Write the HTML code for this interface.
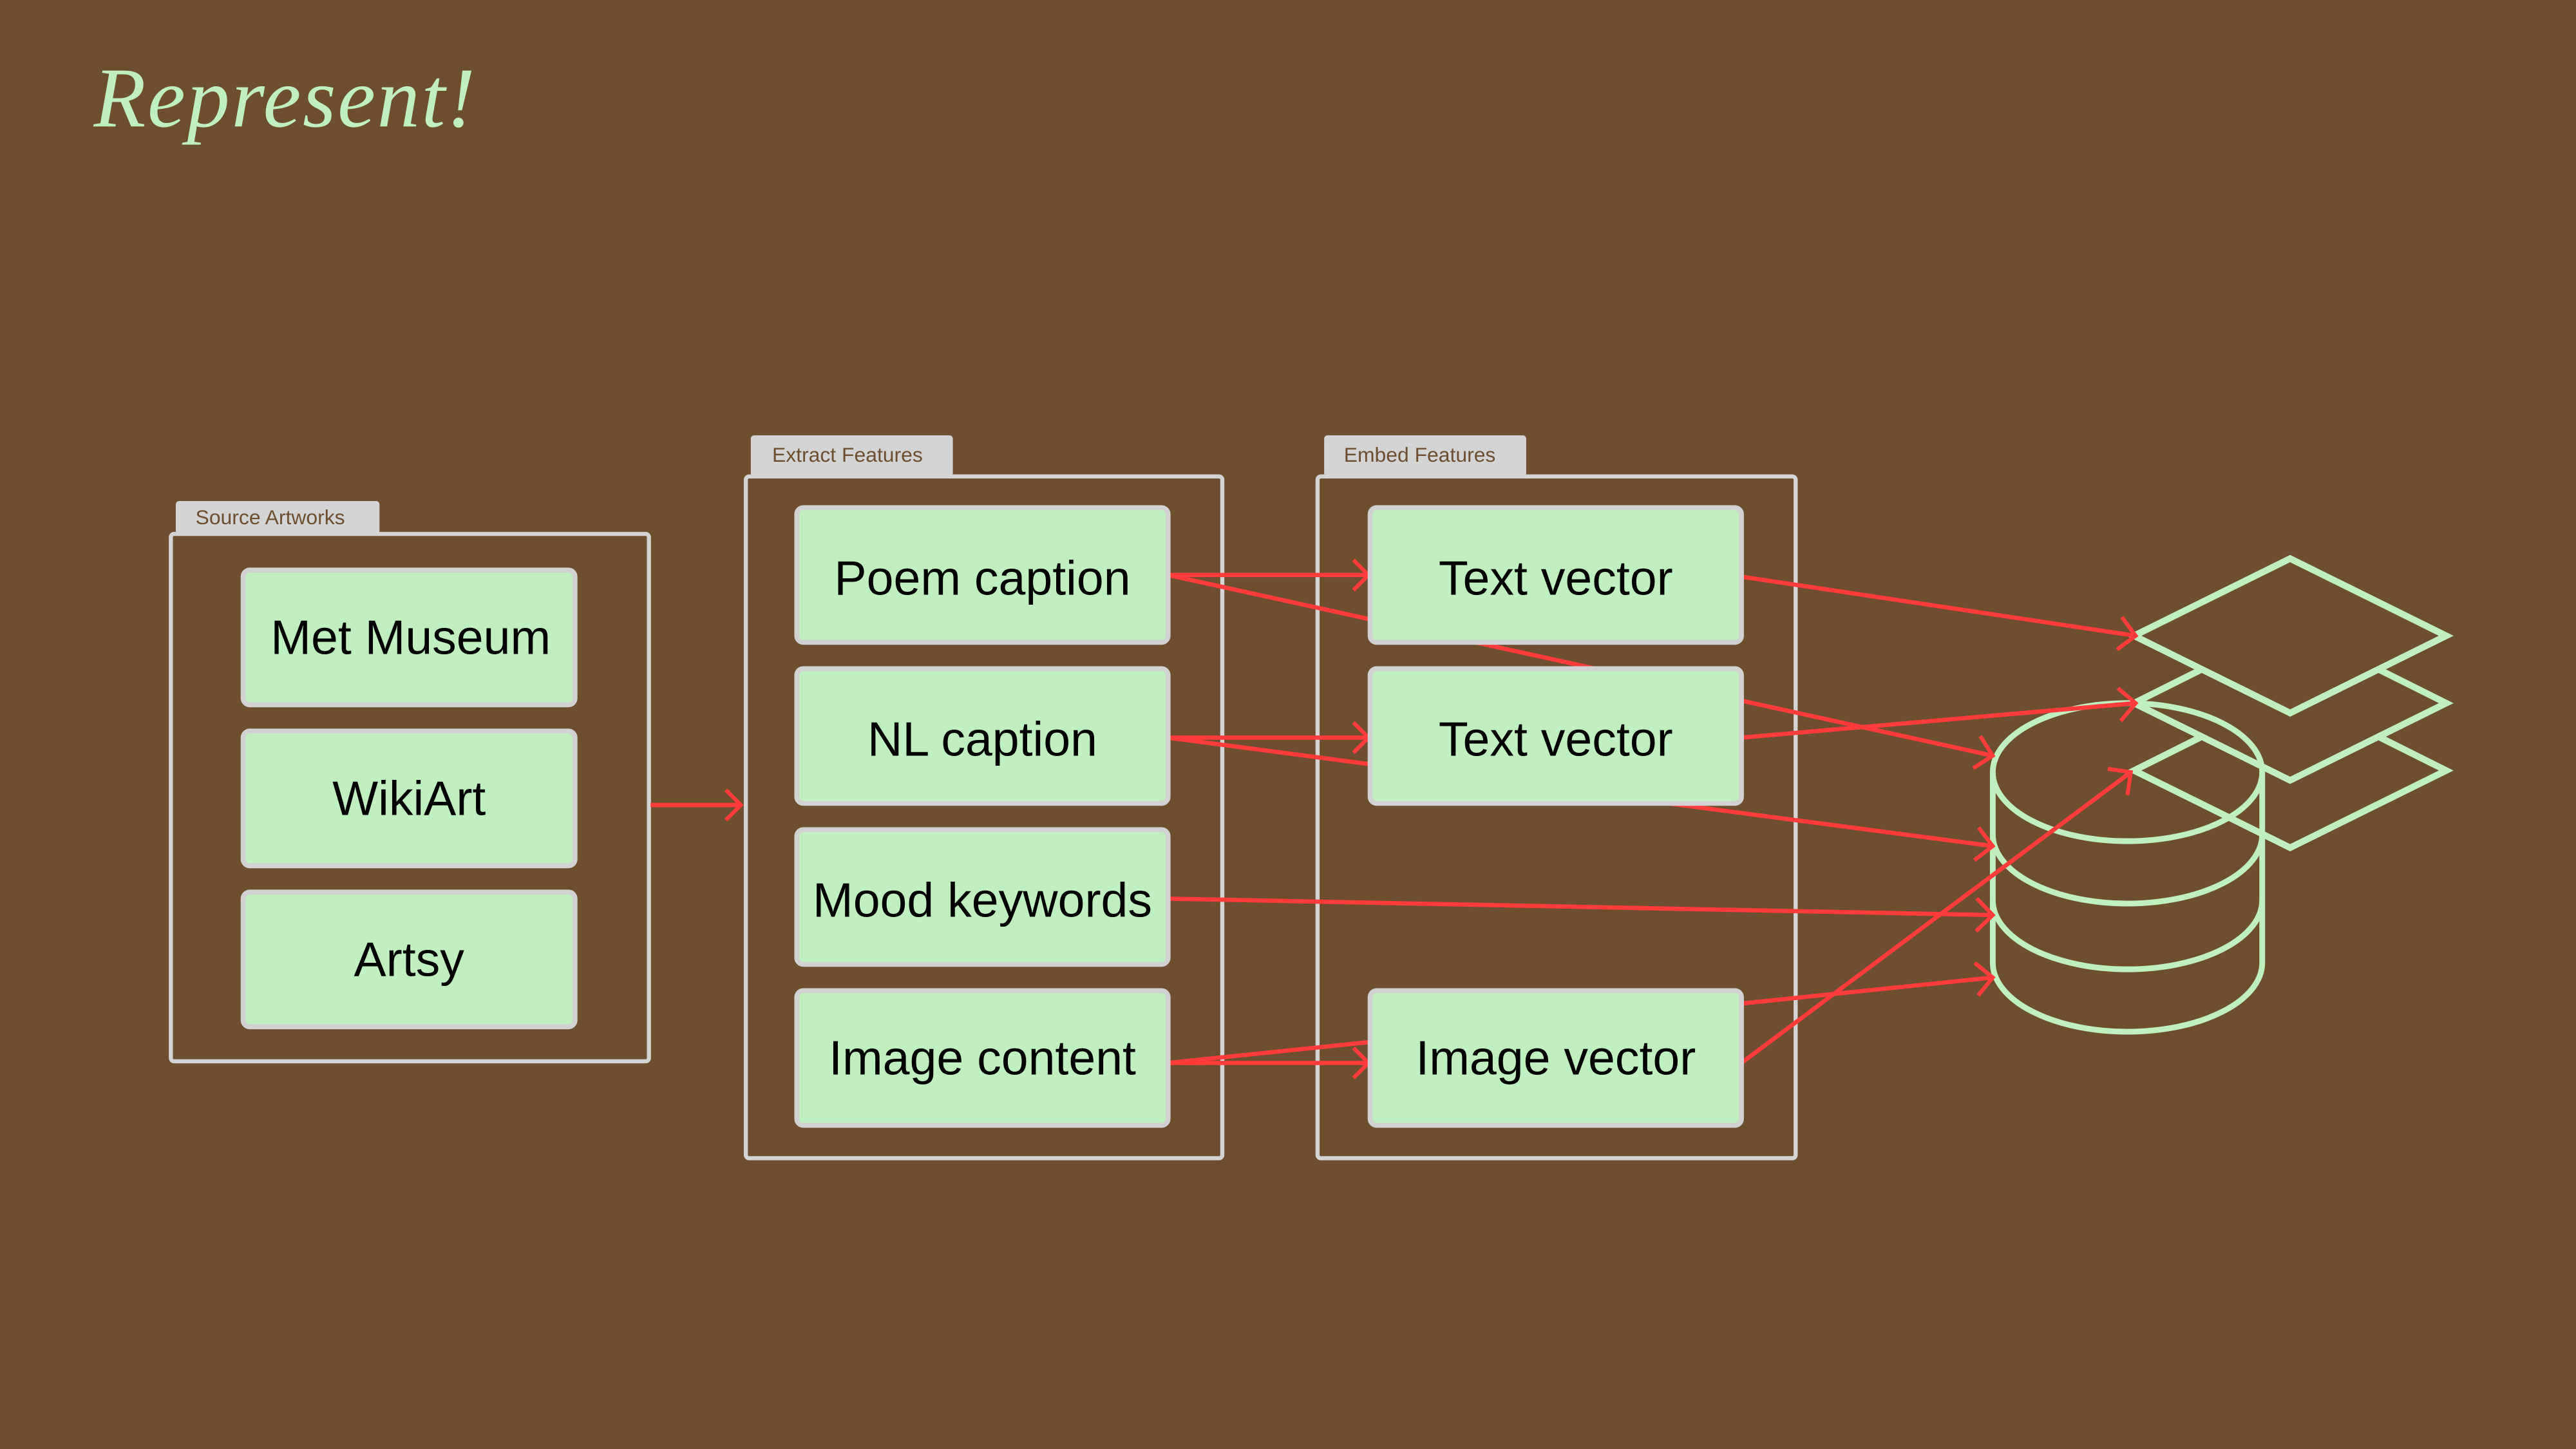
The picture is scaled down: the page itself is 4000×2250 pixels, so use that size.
<!DOCTYPE html>
<html><head><meta charset="utf-8"><style>
html,body{margin:0;padding:0;background:#6d4e2f;}
svg{display:block}
.n{fill:#c0efc0;stroke:#d2d2d2;stroke-width:3}
.t{font-family:"Liberation Sans",sans-serif;font-size:29.5px;fill:#000;text-anchor:middle}
.c{fill:none;stroke:#d4d4d4;stroke-width:2.5}
.tab{fill:#d4d4d4}
.tt{font-family:"Liberation Sans",sans-serif;font-size:12.5px;fill:#6d4e2f}
.a{stroke:#ff3b3b;stroke-width:2.6;fill:none;marker-end:url(#m)}
.g{fill:none;stroke:#c0efc0;stroke-width:4;stroke-linejoin:miter}
</style></head><body>
<svg width="4000" height="2250" viewBox="0 0 1568 882" xmlns="http://www.w3.org/2000/svg">
<defs><marker id="m" viewBox="0 0 24 24" refX="22" refY="12" markerWidth="22" markerHeight="22" markerUnits="userSpaceOnUse" orient="auto"><path d="M12,2 L22,12 L12,22" fill="none" stroke="#ff3b3b" stroke-width="2.6"/></marker>
<marker id="m2" viewBox="0 0 24 24" refX="22" refY="12" markerWidth="24" markerHeight="24" markerUnits="userSpaceOnUse" orient="auto"><path d="M12,2 L22,12 L12,22" fill="none" stroke="#ff3b3b" stroke-width="2.4"/></marker></defs>
<rect width="1568" height="882" fill="#6d4e2f"/>
<text x="57" y="77" font-family="'Liberation Serif',serif" font-style="italic" font-size="52" fill="#c0efc0" letter-spacing="1">Represent!</text>

<rect class="tab" x="107" y="305" width="124" height="20" rx="2"/>
<text class="tt" x="119" y="319">Source Artworks</text>
<rect class="c" x="104" y="325" width="291" height="321" rx="2"/>
<rect class="tab" x="457" y="265" width="123" height="25" rx="2"/>
<text class="tt" x="470" y="281">Extract Features</text>
<rect class="c" x="454" y="290" width="290" height="415" rx="2"/>
<rect class="tab" x="806" y="265" width="123" height="25" rx="2"/>
<text class="tt" x="818" y="281">Embed Features</text>
<rect class="c" x="802" y="290" width="291" height="415" rx="2"/>

<g class="g" style="stroke-width:3.5">
<ellipse cx="1295" cy="470" rx="82" ry="42"/>
<path d="M1213,470 L1213,586 A82,42 0 0 0 1377,586 L1377,470"/>
<path d="M1213,508 A82,42 0 0 0 1377,508"/>
<path d="M1213,548 A82,42 0 0 0 1377,548"/>
</g>
<polygon class="g" points="1299,387 1394,340 1489,387 1394,434"/>
<polyline class="g" points="1340,407.5 1299,428 1394,475 1489,428 1448,407.5"/>
<polyline class="g" points="1340,448.5 1299,469 1394,516 1489,469 1448,448.5"/>

<line class="a" x1="396" y1="490" x2="451" y2="490"/>
<line class="a" x1="711" y1="350" x2="833" y2="350"/>
<line class="a" x1="711" y1="350" x2="1213" y2="460" style="marker-end:url(#m2)"/>
<line class="a" x1="711" y1="449" x2="833" y2="449"/>
<line class="a" x1="711" y1="449" x2="1213" y2="515" style="marker-end:url(#m2)"/>
<line class="a" x1="711" y1="547" x2="1213" y2="557" style="marker-end:url(#m2)"/>
<line class="a" x1="711" y1="647" x2="833" y2="647"/>
<line class="a" x1="711" y1="647" x2="1213" y2="595" style="marker-end:url(#m2)"/>
<line class="a" x1="1060" y1="351" x2="1300" y2="387" style="marker-end:url(#m2)"/>
<line class="a" x1="1060" y1="449" x2="1300" y2="428" style="marker-end:url(#m2)"/>
<line class="a" x1="1060" y1="647" x2="1297" y2="470" style="marker-end:url(#m2)"/>

<rect class="n" x="148" y="347" width="202" height="82" rx="4"/><text class="t" x="250" y="398">Met Museum</text>
<rect class="n" x="148" y="445" width="202" height="82" rx="4"/><text class="t" x="249" y="496">WikiArt</text>
<rect class="n" x="148" y="543" width="202" height="82" rx="4"/><text class="t" x="249" y="594">Artsy</text>

<rect class="n" x="485" y="309" width="226" height="82" rx="4"/><text class="t" x="598" y="362">Poem caption</text>
<rect class="n" x="485" y="407" width="226" height="82" rx="4"/><text class="t" x="598" y="460">NL caption</text>
<rect class="n" x="485" y="505" width="226" height="82" rx="4"/><text class="t" x="598" y="558">Mood keywords</text>
<rect class="n" x="485" y="603" width="226" height="82" rx="4"/><text class="t" x="598" y="654">Image content</text>

<rect class="n" x="834" y="309" width="226" height="82" rx="4"/><text class="t" x="947" y="362">Text vector</text>
<rect class="n" x="834" y="407" width="226" height="82" rx="4"/><text class="t" x="947" y="460">Text vector</text>
<rect class="n" x="834" y="603" width="226" height="82" rx="4"/><text class="t" x="947" y="654">Image vector</text>
</svg>
</body></html>
